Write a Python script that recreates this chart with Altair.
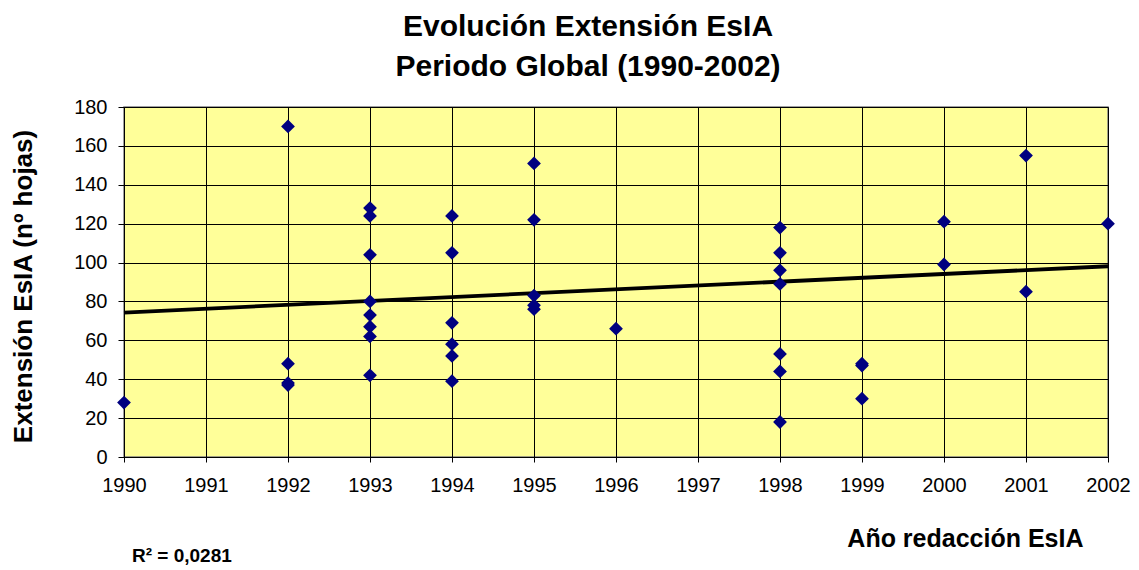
import altair as alt
import pandas as pd

# Year of each report and the page counts recorded for that year
years = [1990, 1992, 1993, 1994, 1995, 1996, 1998, 1999, 2000, 2001, 2002]
pages_by_year = [
    [28],
    [170, 48, 38, 37],
    [128, 124, 104, 80, 73, 67, 62, 42],
    [124, 105, 69, 58, 52, 39],
    [151, 122, 83, 78, 76],
    [66],
    [118, 105, 96, 89, 53, 44, 18],
    [48, 47, 30],
    [121, 99],
    [155, 85],
    [120],
]

# Linear trend line (end points) and its coefficient of determination
trend_years = [1990, 2002]
trend_pages = [74.3, 98.1]
r2_label = "R² = 0,0281"

tick_years = list(range(1990, 2003))
tick_pages = list(range(0, 181, 20))

points = pd.DataFrame(
    [{"year": y, "pages": p} for y, ps in zip(years, pages_by_year) for p in ps]
)
trend = pd.DataFrame({"year": trend_years, "pages": trend_pages})
note = pd.DataFrame({"label": [r2_label]})

x_scale = alt.Scale(domain=[1990, 2002], nice=False, zero=False)
y_scale = alt.Scale(domain=[0, 180], nice=False)

x_axis = alt.Axis(
    values=tick_years,
    format="d",
    title="Año redacción EsIA",
    titleFontSize=25,
    titleFontWeight="bold",
    titleAnchor="end",
    titleAlign="right",
    titleBaseline="middle",
    titleX=959,
    titleY=81,
    labelFontSize=20,
    labelPadding=13,
    labelOverlap=False,
    tickSize=5,
    labelFlush=False,
)
y_axis = alt.Axis(
    values=tick_pages,
    title="Extensión EsIA (nº hojas)",
    titleFontSize=26,
    titleFontWeight="bold",
    titleBaseline="middle",
    titleAlign="center",
    titleX=-101,
    titleY=179,
    labelFontSize=20,
    labelPadding=11,
    labelOverlap=False,
    tickSize=6,
)

line = alt.Chart(trend).mark_line(color="black", strokeWidth=3.8).encode(
    x=alt.X("year:Q", scale=x_scale, axis=x_axis),
    y=alt.Y("pages:Q", scale=y_scale, axis=y_axis),
)

dots = alt.Chart(points).mark_point(
    shape="diamond", filled=True, size=190, color="#000080", opacity=1
).encode(
    x=alt.X("year:Q", scale=x_scale, axis=x_axis),
    y=alt.Y("pages:Q", scale=y_scale, axis=y_axis),
)

r2_text = alt.Chart(note).mark_text(
    fontSize=19, fontWeight="bold", align="left", baseline="middle", color="black"
).encode(
    x=alt.value(8),
    y=alt.value(449),
    text="label:N",
)

chart = (
    alt.layer(line, dots, r2_text)
    .properties(
        width=984,
        height=350,
        padding={"left": 124, "top": 107, "right": 31, "bottom": 113},
        autosize=alt.AutoSizeParams(type="none"),
        background="white",
        title=alt.TitleParams(
            text=["Evolución Extensión EsIA", "Periodo Global (1990-2002)"],
            fontSize=30,
            fontWeight="bold",
            anchor="middle",
            dx=-28,
            offset=15,
            lineHeight=40,
            color="black",
        ),
    )
    .configure(font="Liberation Sans")
    .configure_view(fill="#FFFF99", stroke="#808080", strokeWidth=1.5)
    .configure_axis(
        grid=True,
        gridColor="black",
        gridOpacity=1,
        gridWidth=1,
        domainColor="black",
        domainWidth=1,
        tickColor="black",
        labelColor="black",
        titleColor="black",
    )
)

chart.save("out.html", embed_options={"renderer": "svg", "actions": False})
